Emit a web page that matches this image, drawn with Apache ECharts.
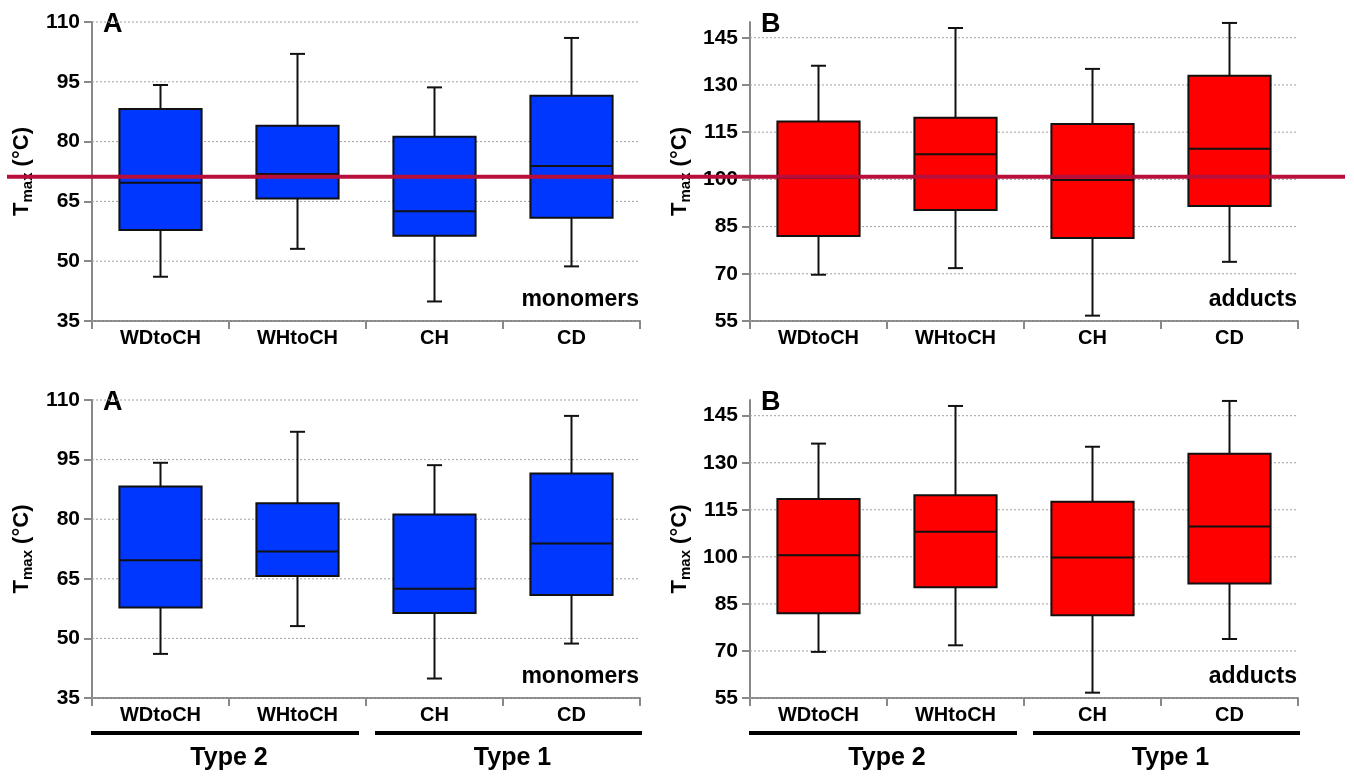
<!DOCTYPE html>
<html>
<head>
<meta charset="utf-8">
<script src="https://cdn.jsdelivr.net/npm/echarts@6/dist/echarts.min.js"></script>
<style>html,body{margin:0;padding:0;background:#fff}#c{width:1354px;height:783px}</style>
</head>
<body>
<div id="c"></div>
<script>
// ---- data ----
const categories = ['WDtoCH', 'WHtoCH', 'CH', 'CD'];
// [min, Q1, median, Q3, max]
const monomerStats = [
  [46.1, 57.8, 69.7, 88.2, 94.2],
  [53.1, 65.7, 71.9, 84.0, 102.0],
  [39.9, 56.4, 62.5, 81.2, 93.6],
  [48.7, 60.9, 73.9, 91.5, 106.0]
];
const adductStats = [
  [69.7, 82.0, 100.5, 118.4, 136.1],
  [71.8, 90.3, 108.0, 119.6, 148.1],
  [56.7, 81.4, 99.8, 117.6, 135.1],
  [73.8, 91.5, 109.7, 132.9, 149.7]
];
const monomerTicks = [35, 50, 65, 80, 95, 110];
const adductTicks = [55, 70, 85, 100, 115, 130, 145];
const monomerRange = [35, 110];
const adductRange = [55, 150];
const monomerRef = 71.2;
const groupLabels = ['Type 2', 'Type 1'];
const panelLetters = ['A', 'B', 'A', 'B'];
const panelTags = ['monomers', 'adducts', 'monomers', 'adducts'];

// ---- layout ----
const FONT = '"Liberation Sans", Arial, Helvetica, sans-serif';
const grids = [
  { left: 92, top: 22, width: 548, height: 299 },
  { left: 750, top: 22, width: 548, height: 299 },
  { left: 92, top: 400, width: 548, height: 298 },
  { left: 750, top: 400, width: 548, height: 298 }
];
const panels = [
  { stats: monomerStats, ticks: monomerTicks, range: monomerRange, color: '#0037ff' },
  { stats: adductStats, ticks: adductTicks, range: adductRange, color: '#ff0000' },
  { stats: monomerStats, ticks: monomerTicks, range: monomerRange, color: '#0037ff' },
  { stats: adductStats, ticks: adductTicks, range: adductRange, color: '#ff0000' }
];

function boxRender(color) {
  return function (params, api) {
    const idx = api.value(0);
    const pMin = api.coord([idx, api.value(1)]);
    const pQ1 = api.coord([idx, api.value(2)]);
    const pMed = api.coord([idx, api.value(3)]);
    const pQ3 = api.coord([idx, api.value(4)]);
    const pMax = api.coord([idx, api.value(5)]);
    const band = api.size([1, 0])[0];
    const bw = band * 0.6, cw = band * 0.11;
    const x = pMed[0];
    const ls = { stroke: '#111', lineWidth: 2 };
    return {
      type: 'group',
      children: [
        { type: 'line', shape: { x1: x, y1: pQ3[1], x2: x, y2: pMax[1] }, style: ls },
        { type: 'line', shape: { x1: x - cw / 2, y1: pMax[1], x2: x + cw / 2, y2: pMax[1] }, style: ls },
        { type: 'line', shape: { x1: x, y1: pQ1[1], x2: x, y2: pMin[1] }, style: ls },
        { type: 'line', shape: { x1: x - cw / 2, y1: pMin[1], x2: x + cw / 2, y2: pMin[1] }, style: ls },
        { type: 'rect', shape: { x: x - bw / 2, y: pQ3[1], width: bw, height: pQ1[1] - pQ3[1] },
          style: { fill: color, stroke: '#111', lineWidth: 2 } },
        { type: 'line', shape: { x1: x - bw / 2, y1: pMed[1], x2: x + bw / 2, y2: pMed[1] }, style: ls }
      ]
    };
  };
}

function gridLineRender(params, api) {
  const cs = params.coordSys;
  const p = api.coord([0, api.value(0)]);
  return {
    type: 'line',
    shape: { x1: cs.x, y1: p[1], x2: cs.x + cs.width, y2: p[1] },
    style: { stroke: '#a0a0a0', lineWidth: 1, lineDash: [2, 2] }
  };
}

const xAxes = [], yAxes = [], series = [];
panels.forEach((pn, i) => {
  xAxes.push({
    type: 'category', gridIndex: i, data: categories, boundaryGap: true,
    axisLine: { show: true, lineStyle: { color: '#888', width: 2 } },
    axisTick: { show: true, length: 8, lineStyle: { color: '#888', width: 2 } },
    axisLabel: { color: '#000', fontSize: 20, fontWeight: 'bold', fontFamily: FONT, margin: 7 },
    splitLine: { show: false }
  });
  yAxes.push({
    type: 'value', gridIndex: i, min: pn.range[0], max: pn.range[1],
    name: '{t|T}{s|max}{t| (°C)}', nameLocation: 'middle', nameGap: 57, nameRotate: 90,
    nameTextStyle: {
      color: '#000', fontFamily: FONT,
      rich: {
        t: { fontSize: 22, fontWeight: 'bold', fontFamily: FONT, color: '#000', lineHeight: 26 },
        s: { fontSize: 15, fontWeight: 'bold', fontFamily: FONT, color: '#000', lineHeight: 14, verticalAlign: 'bottom' }
      }
    },
    axisLine: { show: true, lineStyle: { color: '#888', width: 2 } },
    axisTick: { show: true, length: 8, customValues: pn.ticks, lineStyle: { color: '#888', width: 2 } },
    axisLabel: { customValues: pn.ticks, color: '#000', fontSize: 21, fontWeight: 'bold', fontFamily: FONT, margin: 12 },
    splitLine: { show: false }
  });
  series.push({
    type: 'custom', xAxisIndex: i, yAxisIndex: i, z: 1, silent: true,
    data: pn.ticks.map(v => [v]), encode: { y: 0 },
    renderItem: gridLineRender
  });
  series.push({
    type: 'custom', xAxisIndex: i, yAxisIndex: i, z: 3,
    data: pn.stats.map((s, k) => [k].concat(s)),
    encode: { x: 0, y: [1, 2, 3, 4, 5] },
    renderItem: boxRender(pn.color)
  });
});

const chart = echarts.init(document.getElementById('c'), null, { renderer: 'canvas' });
chart.setOption({
  animation: false,
  backgroundColor: '#fff',
  grid: grids,
  xAxis: xAxes,
  yAxis: yAxes,
  series: series
});

// ---- annotations ----
const graphics = [];
grids.forEach((g, i) => {
  graphics.push({
    type: 'text', left: g.left + 11, top: g.top - 11,
    style: { text: panelLetters[i], fill: '#000', font: 'bold 27px ' + FONT }
  });
  graphics.push({
    type: 'text', x: g.left + g.width - 1, y: g.top + g.height - 21,
    style: { text: panelTags[i], fill: '#000', font: 'bold 23px ' + FONT, textAlign: 'right', textVerticalAlign: 'middle' }
  });
});
// group brackets under bottom panels
[2, 3].forEach(i => {
  const c1 = chart.convertToPixel({ xAxisIndex: i }, categories[1]);
  const c2 = chart.convertToPixel({ xAxisIndex: i }, categories[2]);
  const boundary = (c1 + c2) / 2;
  const g = grids[i];
  const yLine = g.top + g.height + 35;
  const segs = [[g.left - 1, boundary - 7], [boundary + 9, g.left + g.width + 2]];
  segs.forEach((s, k) => {
    graphics.push({ type: 'line', shape: { x1: s[0], y1: yLine, x2: s[1], y2: yLine },
      style: { stroke: '#000', lineWidth: 4 } });
    graphics.push({ type: 'text', x: (s[0] + s[1]) / 2 + 4, y: yLine + 25,
      style: { text: groupLabels[k], fill: '#000', font: 'bold 25px ' + FONT, textAlign: 'center', textVerticalAlign: 'middle' } });
  });
});
// reference line across the top panels
const refY = chart.convertToPixel({ yAxisIndex: 0 }, monomerRef);
graphics.push({ type: 'line', z: 100, shape: { x1: 7, y1: refY, x2: 1345, y2: refY },
  style: { stroke: '#b80f3a', lineWidth: 4 } });

chart.setOption({ graphic: graphics });
</script>
</body>
</html>
